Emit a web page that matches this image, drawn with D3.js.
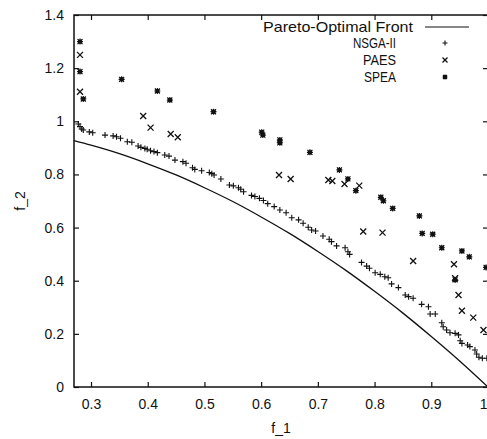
<!DOCTYPE html>
<html>
<head>
<meta charset="utf-8">
<script src="https://cdn.jsdelivr.net/npm/d3@7"></script>
<style>
  html, body { margin: 0; padding: 0; background: #fff; }
  svg { display: block; font-family: "Liberation Sans", Arial, Helvetica, sans-serif; }
</style>
</head>
<body>
<svg id="chart" width="487" height="439"></svg>
<script>
// ---------- data ----------
const xTicks = [0.3, 0.4, 0.5, 0.6, 0.7, 0.8, 0.9, 1.0];
const xTickLabels = ["0.3", "0.4", "0.5", "0.6", "0.7", "0.8", "0.9", "1"];
const yTicks = [0, 0.2, 0.4, 0.6, 0.8, 1.0, 1.2, 1.4];
const yTickLabels = ["0", "0.2", "0.4", "0.6", "0.8", "1", "1.2", "1.4"];

const seriesNames = ["Pareto-Optimal Front", "NSGA-II", "PAES", "SPEA"];

// Pareto-optimal front
const paretoF1 = [0.27, 0.30, 0.35, 0.40, 0.45, 0.50, 0.55, 0.60, 0.65, 0.70, 0.75, 0.80, 0.85, 0.90, 0.95, 1.00];
const paretoF2 = [0.927, 0.910, 0.878, 0.840, 0.798, 0.750, 0.698, 0.640, 0.578, 0.510, 0.438, 0.360, 0.278, 0.190, 0.098, 0.000];

const nsga2 = [
  [0.2776,0.990],[0.2806,0.980],[0.2836,0.971],[0.2864,0.967],[0.297,0.960],[0.303,0.957],
  [0.3247,0.948],[0.339,0.945],[0.345,0.942],[0.352,0.936],[0.364,0.923],[0.372,0.921],
  [0.383,0.907],[0.388,0.902],[0.395,0.898],[0.399,0.895],[0.405,0.889],[0.411,0.886],
  [0.417,0.882],[0.430,0.873],[0.4375,0.869],[0.448,0.854],[0.462,0.848],[0.4675,0.842],
  [0.479,0.825],[0.483,0.819],[0.495,0.814],[0.5086,0.807],[0.513,0.803],[0.517,0.798],
  [0.529,0.783],[0.544,0.760],[0.551,0.757],[0.560,0.750],[0.564,0.744],[0.569,0.735],
  [0.583,0.721],[0.589,0.717],[0.597,0.710],[0.604,0.702],[0.6116,0.690],[0.623,0.679],
  [0.633,0.666],[0.644,0.656],[0.654,0.637],[0.666,0.629],[0.674,0.616],[0.683,0.601],
  [0.689,0.591],[0.696,0.587],[0.709,0.568],[0.720,0.556],[0.724,0.547],[0.733,0.531],
  [0.748,0.524],[0.753,0.509],[0.756,0.499],[0.777,0.469],[0.786,0.455],[0.791,0.447],
  [0.801,0.430],[0.810,0.424],[0.818,0.415],[0.824,0.411],[0.830,0.388],[0.842,0.374],
  [0.854,0.346],[0.860,0.340],[0.868,0.334],[0.883,0.311],[0.895,0.302],[0.898,0.275],
  [0.907,0.275],[0.9185,0.242],[0.921,0.227],[0.927,0.2145],[0.933,0.204],[0.942,0.202],
  [0.948,0.196],[0.951,0.174],[0.954,0.164],[0.964,0.158],[0.968,0.152],[0.977,0.139],
  [0.980,0.124],[0.984,0.112],[0.990,0.108],[0.998,0.108]
];

const paes = [
  [0.2806,1.250],[0.2806,1.111],[0.392,1.020],[0.405,0.976],[0.4405,0.952],[0.453,0.940],
  [0.6315,0.798],[0.652,0.783],[0.7185,0.779],[0.7255,0.775],[0.747,0.764],[0.773,0.758],
  [0.780,0.585],[0.814,0.581],[0.868,0.474],[0.940,0.462],[0.942,0.409],[0.948,0.346],
  [0.954,0.287],[0.974,0.261],[0.992,0.2145]
];

const spea = [
  [0.2806,1.300],[0.2806,1.187],[0.2864,1.084],[0.354,1.158],[0.417,1.114],[0.439,1.080],
  [0.516,1.036],[0.601,0.959],[0.603,0.948],[0.633,0.930],[0.633,0.919],[0.686,0.883],
  [0.738,0.817],[0.753,0.783],[0.767,0.739],[0.811,0.714],[0.8155,0.701],[0.832,0.672],
  [0.879,0.644],[0.884,0.578],[0.9025,0.575],[0.9185,0.524],[0.954,0.512],[0.967,0.490],
  [0.942,0.403],[0.9966,0.450]
];

// ---------- layout ----------
const svg = d3.select("#chart");
const mLeft = 74, mRight = 488, mTop = 15, mBottom = 387;
const ink = "#111";

const x = d3.scaleLinear().domain([0.27, 1.0]).range([mLeft, mRight]);
const y = d3.scaleLinear().domain([0, 1.4]).range([mBottom, mTop]);

// axes (ticks inward, mirrored)
function styleAxis(g) {
  g.select(".domain").remove();
  g.selectAll(".tick line").attr("stroke", ink).attr("stroke-width", 1.2);
  g.selectAll(".tick text").attr("fill", ink).style("font-size", "14px")
    .style("font-family", "'Liberation Sans', Arial, Helvetica, sans-serif");
}
const xAxis = d3.axisBottom(x).tickValues(xTicks)
  .tickFormat((d, i) => xTickLabels[i]).tickSizeInner(-5).tickSizeOuter(0).tickPadding(12);
const gx = svg.append("g").attr("transform", `translate(0,${mBottom})`).call(xAxis).call(styleAxis);
// keep the last label inside the canvas
gx.selectAll(".tick text").filter(d => d === 1.0).attr("text-anchor", "end").attr("dx", "-1");

const yAxis = d3.axisLeft(y).tickValues(yTicks)
  .tickFormat((d, i) => yTickLabels[i]).tickSizeInner(-5).tickSizeOuter(0).tickPadding(10);
svg.append("g").attr("transform", `translate(${mLeft},0)`).call(yAxis).call(styleAxis);

svg.append("g").attr("transform", `translate(0,${mTop})`)
  .call(d3.axisTop(x).tickValues(xTicks).tickFormat("").tickSizeInner(-5).tickSizeOuter(0))
  .call(styleAxis);
svg.append("g").attr("transform", `translate(${mRight},0)`)
  .call(d3.axisRight(y).tickValues(yTicks).tickFormat("").tickSizeInner(-5).tickSizeOuter(0))
  .call(styleAxis);

// frame
svg.append("rect").attr("x", mLeft).attr("y", mTop)
  .attr("width", mRight - mLeft).attr("height", mBottom - mTop)
  .attr("fill", "none").attr("stroke", ink).attr("stroke-width", 1.5);

// axis titles
svg.append("text").attr("x", (mLeft + mRight) / 2).attr("y", 433)
  .attr("text-anchor", "middle").attr("fill", ink).style("font-size", "14px").text("f_1");
svg.append("text").attr("transform", `translate(25,201) rotate(-90)`)
  .attr("text-anchor", "middle").attr("fill", ink).style("font-size", "14px").text("f_2");

// ---------- marks ----------
const plot = svg.append("g");

// Pareto front line
const front = paretoF1.map((v, i) => [v, paretoF2[i]]);
plot.append("path").datum(front)
  .attr("d", d3.line().x(d => x(d[0])).y(d => y(d[1])).curve(d3.curveMonotoneX))
  .attr("fill", "none").attr("stroke", ink).attr("stroke-width", 1.3);

const plusPath = s => `M${-s},0H${s}M0,${-s}V${s}`;
const crossPath = s => `M${-s},${-s}L${s},${s}M${-s},${s}L${s},${-s}`;

function drawPlus(g, s) {
  g.append("path").attr("d", plusPath(s)).attr("stroke", ink).attr("stroke-width", 1.1).attr("fill", "none");
}
function drawCross(g, s) {
  g.append("path").attr("d", crossPath(s)).attr("stroke", ink).attr("stroke-width", 1.3).attr("fill", "none");
}
function drawStar(g, s) {
  g.append("rect").attr("x", -2).attr("y", -2).attr("width", 4).attr("height", 4).attr("fill", ink);
  g.append("path").attr("d", plusPath(s) + crossPath(s - 0.5)).attr("stroke", ink).attr("stroke-width", 1.2).attr("fill", "none");
}

plot.selectAll("g.nsga").data(nsga2).join("g").attr("class", "nsga")
  .attr("transform", d => `translate(${x(d[0])},${y(d[1])})`)
  .each(function () { drawPlus(d3.select(this), 3); });

plot.selectAll("g.paes").data(paes).join("g").attr("class", "paes")
  .attr("transform", d => `translate(${x(d[0])},${y(d[1])})`)
  .each(function () { drawCross(d3.select(this), 3); });

plot.selectAll("g.spea").data(spea).join("g").attr("class", "spea")
  .attr("transform", d => `translate(${x(d[0])},${y(d[1])})`)
  .each(function () { drawStar(d3.select(this), 3); });

// ---------- legend ----------
const legend = svg.append("g");
const legY = [27, 43, 60, 77];
const legTextEnd = [413, 396, 396, 396];
const legTextLen = [150, 43, 33, 32];
const legSize = [14.5, 14, 14, 14];
seriesNames.forEach((name, i) => {
  legend.append("text").attr("x", legTextEnd[i]).attr("y", legY[i] + 5)
    .attr("text-anchor", "end").attr("fill", ink)
    .attr("textLength", legTextLen[i]).attr("lengthAdjust", "spacingAndGlyphs")
    .style("font-size", legSize[i] + "px").text(name);
});
legend.append("line").attr("x1", 425).attr("x2", 469).attr("y1", legY[0]).attr("y2", legY[0])
  .attr("stroke", ink).attr("stroke-width", 1.1);
drawPlus(legend.append("g").attr("transform", `translate(445,${legY[1]})`), 2.5);
drawCross(legend.append("g").attr("transform", `translate(445,${legY[2]})`), 2.5);
drawStar(legend.append("g").attr("transform", `translate(445,${legY[3]})`), 2.5);
</script>
</body>
</html>
